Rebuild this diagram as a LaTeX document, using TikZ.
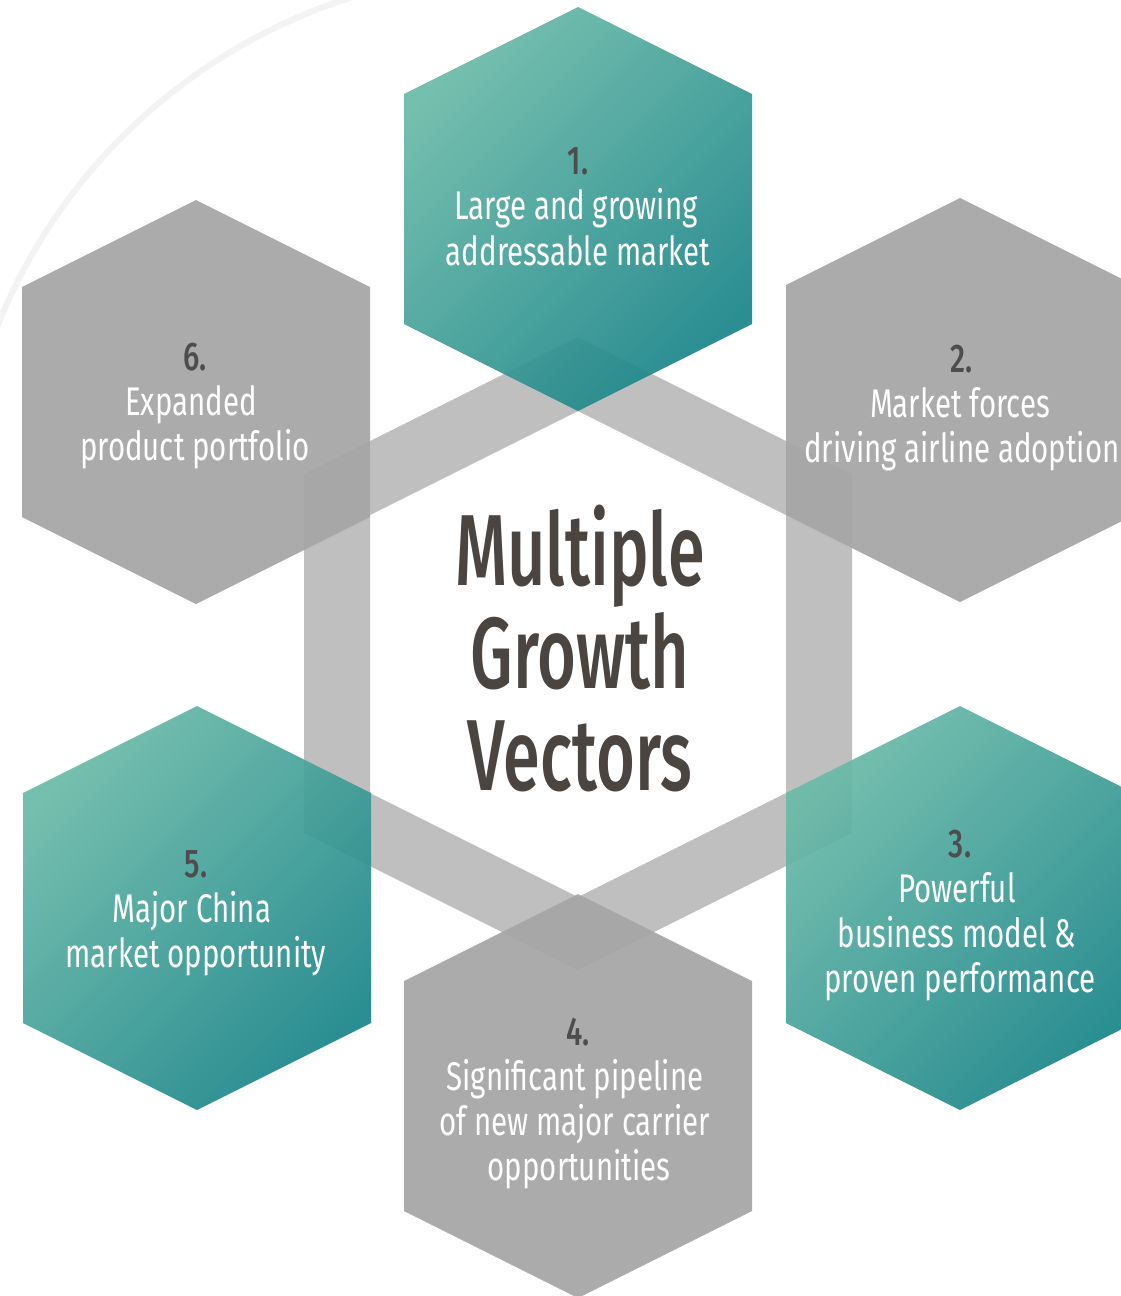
\documentclass[tikz,border=0pt]{standalone}
\usepackage{fontspec}
\newfontfamily\lblfont{Fira Sans}[FakeStretch=0.735]
\newfontfamily\numfont{Fira Sans Medium}[FakeStretch=0.74]
\newfontfamily\ctrfont{Fira Sans Medium}[FakeStretch=0.66]

\definecolor{ringgray}{HTML}{BFBFBF}
\definecolor{hexgray}{HTML}{A6A6A6}
\definecolor{teallight}{HTML}{6ABAA8}
\definecolor{tealdark}{HTML}{1A8589}
\definecolor{numgray}{HTML}{4D4D4D}
\definecolor{titlegray}{HTML}{4A4541}
\definecolor{faintline}{HTML}{F3F3F3}

\tikzset{
  hexgrey/.style={fill=hexgray, fill opacity=0.94},
  hexteal/.style={left color=teallight, right color=tealdark, shading angle=45, fill opacity=0.92},
  lbl/.style={font=\lblfont\fontsize{40}{45}\selectfont, text=white, anchor=base, inner sep=0pt},
  num/.style={font=\numfont\fontsize{40}{45}\selectfont, text=numgray, anchor=base, inner sep=0pt},
  title/.style={font=\ctrfont\fontsize{101}{103}\selectfont, text=titlegray, anchor=base, inner sep=0pt},
  ring/.style={fill=ringgray, even odd rule},
  faintarc/.style={draw=faintline, line width=6pt},
}
% pointy-top hexagon centred at (#1,#2)
\newcommand\hexpath[2]{(#1,#2) ++(0,-202) -- ++(174,87) -- ++(0,230) -- ++(-174,87) -- ++(-174,-87) -- ++(0,-230) -- cycle}

\begin{document}
\begin{tikzpicture}[x=1pt,y=-1pt]
\useasboundingbox (0,0) rectangle (1120,1296);
\fill[white] (0,0) rectangle (1120,1296);

% faint background arc
\begin{scope}
\clip (0,0) rectangle (1120,1296);
\draw[faintarc] ([shift={(-100:565)}]522,536) arc[start angle=-100, end angle=-168, radius=565];
\end{scope}

% central hexagonal ring
\path[ring] (578,337) -- (852,474) -- (852,833) -- (578,970) -- (304,833) -- (304,474) -- cycle
            (578,411) -- (786,515) -- (786,793) -- (578,897) -- (370,793) -- (370,515) -- cycle;

% six surrounding hexagons
\path[hexteal] \hexpath{578}{209};
\path[hexgrey] \hexpath{960}{400};
\path[hexteal] \hexpath{960}{908};
\path[hexgrey] \hexpath{578}{1096};
\path[hexteal] \hexpath{197}{908};
\path[hexgrey] \hexpath{196}{402};

% centre title
\node[title] (tA) at (580,585) {Multiple};
\node[title] (tB) at (580,688) {Growth};
\node[title] (tC) at (580,790) {Vectors};

% 1
\node[num] (n1) at (578,174) {1.};
\node[lbl] (a1) at (576,219) {Large and growing};
\node[lbl] (b1) at (578,265) {addressable market};
% 2
\node[num] (n2) at (962,372) {2.};
\node[lbl] (a2) at (960,417) {Market forces};
\node[lbl] (b2) at (962,462) {driving airline adoption};
% 3
\node[num] (n3) at (960,857) {3.};
\node[lbl] (a3) at (957,902) {Powerful};
\node[lbl] (b3) at (957,947) {business model \&};
\node[lbl] (c3) at (960,992) {proven performance};
% 4
\node[num] (n4) at (578,1045) {4.};
\node[lbl] (a4) at (575,1090) {Significant pipeline};
\node[lbl] (b4) at (575,1135) {of new major carrier};
\node[lbl] (c4) at (579,1180) {opportunities};
% 5
\node[num] (n5) at (196,877) {5.};
\node[lbl] (a5) at (192,922) {Major China};
\node[lbl] (b5) at (196,967) {market opportunity};
% 6
\node[num] (n6) at (195,370) {6.};
\node[lbl] (a6) at (191,415) {Expanded};
\node[lbl] (b6) at (195,460) {product portfolio};
\end{tikzpicture}
\end{document}
